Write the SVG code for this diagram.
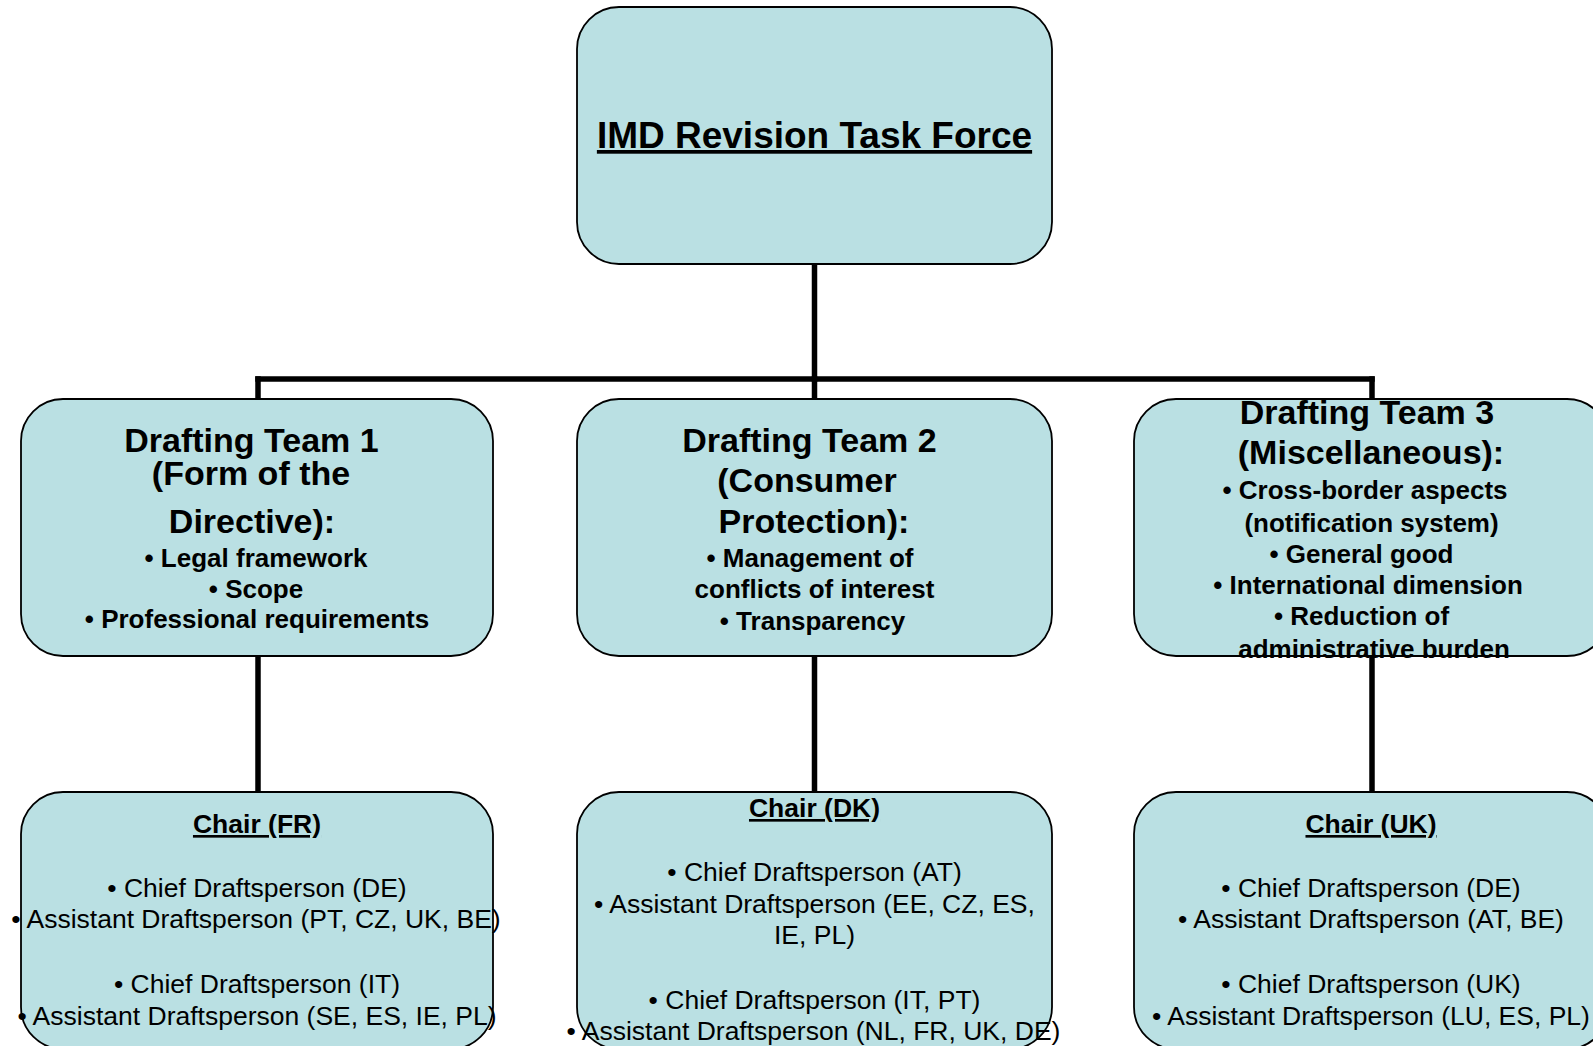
<svg xmlns="http://www.w3.org/2000/svg" width="1593" height="1046" viewBox="0 0 1593 1046">
<style>
.box{fill:#BAE0E3;stroke:#000;stroke-width:1.8}
.conn{stroke:#000;stroke-width:5.5;fill:none;stroke-linecap:square}
text{font-family:"Liberation Sans",Arial,sans-serif;fill:#000;text-anchor:middle}
.title{font-size:37px;font-weight:bold;text-decoration:underline}
.head{font-size:34px;font-weight:bold}
.bb{font-size:26px;font-weight:bold}
.chair{font-size:26.5px;font-weight:bold;text-decoration:underline}
.reg{font-size:26.5px}
</style>
<rect width="1593" height="1046" fill="#fff"/>
<g id="connectors">
<line class="conn" x1="814.5" y1="264" x2="814.5" y2="379"/>
<line class="conn" x1="258" y1="379" x2="1372" y2="379"/>
<line class="conn" x1="258" y1="379" x2="258" y2="399"/>
<line class="conn" x1="814.5" y1="379" x2="814.5" y2="399"/>
<line class="conn" x1="1372" y1="379" x2="1372" y2="399"/>
<line class="conn" x1="258" y1="656" x2="258" y2="792"/>
<line class="conn" x1="814.5" y1="656" x2="814.5" y2="792"/>
<line class="conn" x1="1372" y1="656" x2="1372" y2="792"/>
</g>
<g id="taskforce">
<rect class="box" x="577" y="7" width="475" height="257" rx="42" ry="42"/>
<text class="title" x="814.5" y="148">IMD Revision Task Force</text>
</g>
<g id="team1">
<rect class="box" x="21" y="399" width="472" height="257" rx="42" ry="42"/>
<text class="head" x="251.5" y="452">Drafting Team 1</text>
<text class="head" x="251" y="485">(Form of the</text>
<text class="head" x="252" y="533">Directive):</text>
<text class="bb" x="256" y="567">• Legal framework</text>
<text class="bb" x="256" y="598">• Scope</text>
<text class="bb" x="257" y="628">• Professional requirements</text>
</g>
<g id="team2">
<rect class="box" x="577" y="399" width="475" height="257" rx="42" ry="42"/>
<text class="head" x="809.5" y="452">Drafting Team 2</text>
<text class="head" x="807" y="492">(Consumer</text>
<text class="head" x="814" y="533">Protection):</text>
<text class="bb" x="810" y="567">• Management of</text>
<text class="bb" x="814.5" y="598">conflicts of interest</text>
<text class="bb" x="812.5" y="630">• Transparency</text>
</g>
<g id="team3">
<rect class="box" x="1134" y="399" width="475" height="257" rx="42" ry="42"/>
<text class="head" x="1367" y="424">Drafting Team 3</text>
<text class="head" x="1371" y="464">(Miscellaneous):</text>
<text class="bb" x="1365" y="499">• Cross-border aspects</text>
<text class="bb" x="1371.5" y="532">(notification system)</text>
<text class="bb" x="1361.5" y="563">• General good</text>
<text class="bb" x="1368" y="594">• International dimension</text>
<text class="bb" x="1361.5" y="625">• Reduction of</text>
<text class="bb" x="1374" y="658">administrative burden</text>
</g>
<g id="chair1">
<rect class="box" x="21" y="792" width="472" height="257" rx="42" ry="42"/>
<text class="chair" x="257" y="833">Chair (FR)</text>
<text class="reg" x="257" y="897">• Chief Draftsperson (DE)</text>
<text class="reg" x="256" y="928">• Assistant Draftsperson (PT, CZ, UK, BE)</text>
<text class="reg" x="257" y="993">• Chief Draftsperson (IT)</text>
<text class="reg" x="257" y="1025">• Assistant Draftsperson (SE, ES, IE, PL)</text>
</g>
<g id="chair2">
<rect class="box" x="577" y="792" width="475" height="257" rx="42" ry="42"/>
<text class="chair" x="814.5" y="817">Chair (DK)</text>
<text class="reg" x="814.5" y="881">• Chief Draftsperson (AT)</text>
<text class="reg" x="814.5" y="913">• Assistant Draftsperson (EE, CZ, ES,</text>
<text class="reg" x="814.5" y="944">IE, PL)</text>
<text class="reg" x="814.5" y="1009">• Chief Draftsperson (IT, PT)</text>
<text class="reg" x="813.5" y="1040">• Assistant Draftsperson (NL, FR, UK, DE)</text>
</g>
<g id="chair3">
<rect class="box" x="1134" y="792" width="475" height="257" rx="42" ry="42"/>
<text class="chair" x="1371" y="833">Chair (UK)</text>
<text class="reg" x="1371" y="897">• Chief Draftsperson (DE)</text>
<text class="reg" x="1371" y="928">• Assistant Draftsperson (AT, BE)</text>
<text class="reg" x="1371" y="993">• Chief Draftsperson (UK)</text>
<text class="reg" x="1371" y="1025">• Assistant Draftsperson (LU, ES, PL)</text>
</g>
</svg>
